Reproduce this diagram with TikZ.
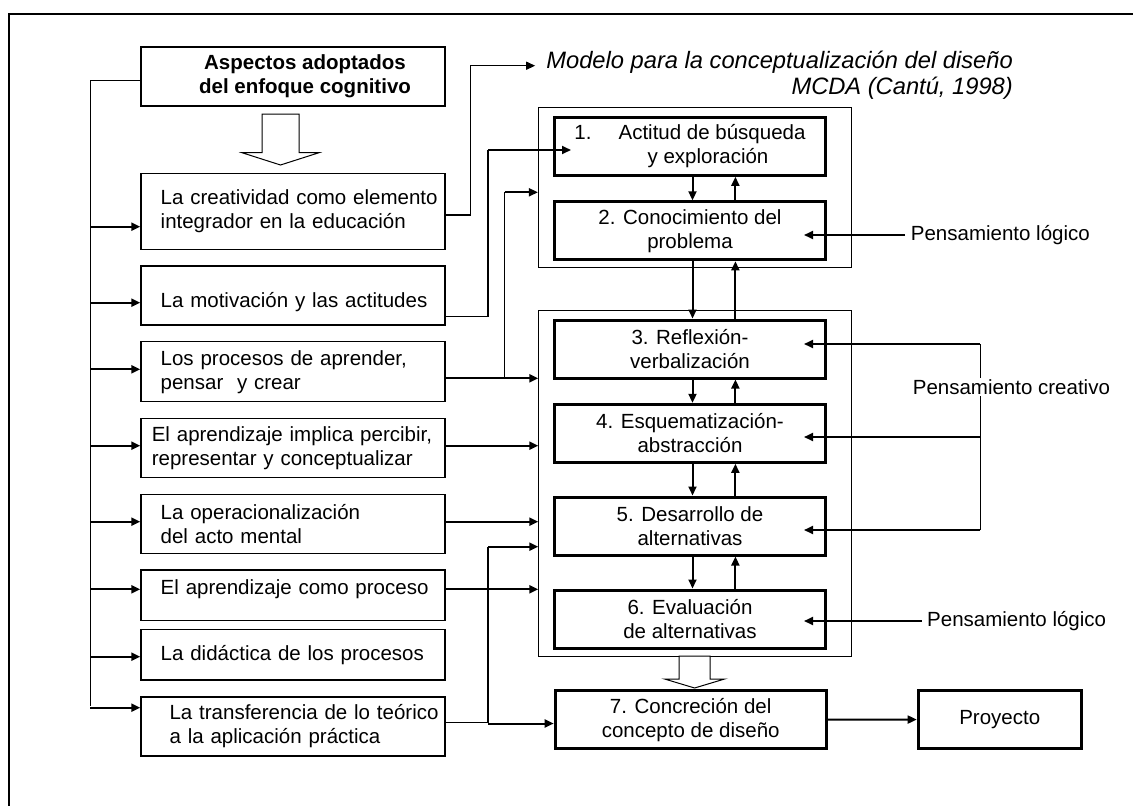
\documentclass[tikz,border=0pt]{standalone}
\usepackage{fontspec}
\setmainfont{Liberation Sans}
\usetikzlibrary{arrows.meta, calc}

\begin{document}
\begin{tikzpicture}[
  x=1pt, y=-1pt,
  every node/.style={font=\fontsize{20.5}{24}\selectfont},
  aspect/.style={draw, line width=1.4pt, text width=304pt, inner xsep=0pt, align=left,
    execute at begin node={\leftskip=#1}},
  aspect/.default=19.7pt,
  head/.style={draw, line width=1.4pt, minimum width=304pt, minimum height=59pt, align=center,
    font=\fontsize{20.5}{24}\selectfont\bfseries},
  stage/.style={draw, line width=3pt, minimum width=271pt, minimum height=58pt, align=center},
  group/.style={draw, line width=0.9pt, inner sep=0pt},
  link/.style={line width=1.3pt},
  arr/.style={-{Triangle[length=9pt,width=8pt]}, line width=2pt},
  hollow/.style={draw, line width=1pt, fill=white}
  ]
\useasboundingbox (0,0) rectangle (1133,806);
\draw[line width=1.8pt] (9.3,14) rectangle (1160,830);

% Left column
\node[head] (aspA) at (293,76.3) {\hspace*{24pt}Aspectos adoptados\\\hspace*{24pt}del enfoque cognitivo};
\node[aspect, minimum height=76pt] (bB) at (293,211.3) {La creatividad como elemento\\integrador en la educación};
\node[aspect, minimum height=59pt] (bC) at (293,295.5) {\raisebox{-7pt}[\height][\depth]{La motivación y las actitudes}};
\node[aspect, minimum height=60pt] (bD) at (293,371.7) {Los procesos de aprender,\\pensar\ \ y crear};
\node[aspect=10.8pt, minimum height=59pt] (bE) at (293,447.8) {El aprendizaje implica percibir,\\representar y conceptualizar};
\node[aspect, minimum height=59pt] (bF) at (293,523.7) {La operacionalización\\del acto mental};
\node[aspect, minimum height=50.7pt] (bG) at (293,595.3) {\raisebox{6pt}[\height][\depth]{El aprendizaje como proceso}};
\node[aspect, minimum height=50.7pt] (bH) at (293,654.7) {La didáctica de los procesos};
\node[aspect=28.6pt, minimum height=59pt] (bI) at (293,726.3) {La transferencia de lo teórico\\a la aplicación práctica};

\draw[hollow] (262,114) -- (299,114) -- (299,152.7) -- (319,152.7) -- (280.5,165) -- (242,152.7) -- (262,152.7) -- cycle;

% Model (MCDA)
\node[anchor=east, align=right, inner xsep=11pt, inner ysep=0pt,
  font=\fontsize{23.7}{26}\selectfont\itshape] (mcda) at (1024,75) {Modelo para la conceptualización del diseño\\MCDA (Cantú, 1998)};
\node[group, minimum width=312.7pt, minimum height=160pt] (g1) at (694.7,187.7) {};
\node[group, minimum width=312.3pt, minimum height=346pt] (g2) at (694.9,483) {};
\node[stage] (b1) at (690,146.3) {1.\hspace{27pt}Actitud de búsqueda\\\hspace*{36pt}y exploración};
\node[stage] (b2) at (690,230.8) {2. Conocimiento del\\problema};
\node[stage] (b3) at (690,349) {3. Reflexión-\\verbalización};
\node[stage] (b4) at (690,433.3) {4. Esquematización-\\abstracción};
\node[stage] (b5) at (690,526) {5. Desarrollo de\\alternativas};
\node[stage] (b6) at (690,619) {6. Evaluación\\de alternativas};
\node[stage] (b7) at (690.7,719.7) {7. Concreción del\\concepto de diseño};
\node[stage, minimum width=163pt] (proj) at (999.7,719.5) {Proyecto};

\draw[hollow] (679,656) -- (710,656) -- (710,679) -- (724.6,679) -- (694.6,688) -- (664.6,679) -- (679,679) -- cycle;

% Arrows between the steps
\foreach \a/\b in {b1/b2, b2/b3, b3/b4, b4/b5, b5/b6} {
  \draw[arr] ([xshift=2.5pt]\a.south) -- ([xshift=2.5pt]\b.north);
  \draw[arr] ([xshift=45.4pt]\b.north) -- ([xshift=45.4pt]\a.south);
}
\draw[arr] (b7) -- (proj);

% Left spine
\coordinate (spine) at (90.3,80.3);
\draw[link] (aspA.west |- spine) -- (spine) -- (spine |- 0,705.7);
\foreach \n/\y in {bB/226.7, bC/302.7, bD/369.3, bE/445.7, bF/521.7, bG/589.3, bH/656.7, bI/707.7}
  \draw[arr] (spine |- 0,\y) -- (\n.west |- 0,\y);

% Links to the model
\coordinate (jC) at (488,150);
\coordinate (jD) at (504.6,192.3);
\coordinate (jI) at (488,546.7);
\draw[link, -{Triangle[length=9pt,width=8pt]}] (bB.east |- 0,215) -- (470.7,215) -- (470.7,65.7) -- (mcda.west |- 0,65.7);
\draw[link] (bC.east |- 0,316.7) -| (jC);
\draw[arr] (jC) -- ($(b1.west |- jC)+(18,0)$);
\draw[arr] (bD.east |- 0,378.3) -- (g2.west |- 0,378.3);
\draw[link] (jD |- 0,378.3) -- (jD);
\draw[arr] (jD) -- (g1.west |- jD);
\foreach \n/\y in {bE/445.7, bF/521.7, bG/589.3}
  \draw[arr] (\n.east |- 0,\y) -- (g2.west |- 0,\y);
\draw[link] (bI.east |- 0,722.5) -| (jI);
\draw[arr] (jI) -- (g2.west |- jI);
\draw[arr] (jI |- 0,723.5) -- (b7.west |- 0,723.5);

% Kinds of thinking
\node[anchor=west, inner xsep=5.7pt] (pl1) at (905,235) {Pensamiento lógico};
\draw[arr] (pl1.west) -- ($(b2.east |- pl1.west)+(-23,0)$);
\node[anchor=west, inner xsep=5.3pt] (pl2) at (921.7,621) {Pensamiento lógico};
\draw[arr] (pl2.west) -- ($(b6.east |- pl2.west)+(-23,0)$);
\coordinate (brT) at (980,344);
\coordinate (brM) at (980,437);
\coordinate (brB) at (980,530);
\draw[line width=0.9pt] (brT) -- (brB);
\foreach \c/\n in {brT/b3, brM/b4, brB/b5}
  \draw[arr] (\c) -- ($(\n.east |- \c)+(-23,0)$);
\node[fill=white, inner xsep=1pt, inner ysep=1.5pt] (pc) at (1011.4,387) {Pensamiento creativo};

\end{tikzpicture}
\end{document}
